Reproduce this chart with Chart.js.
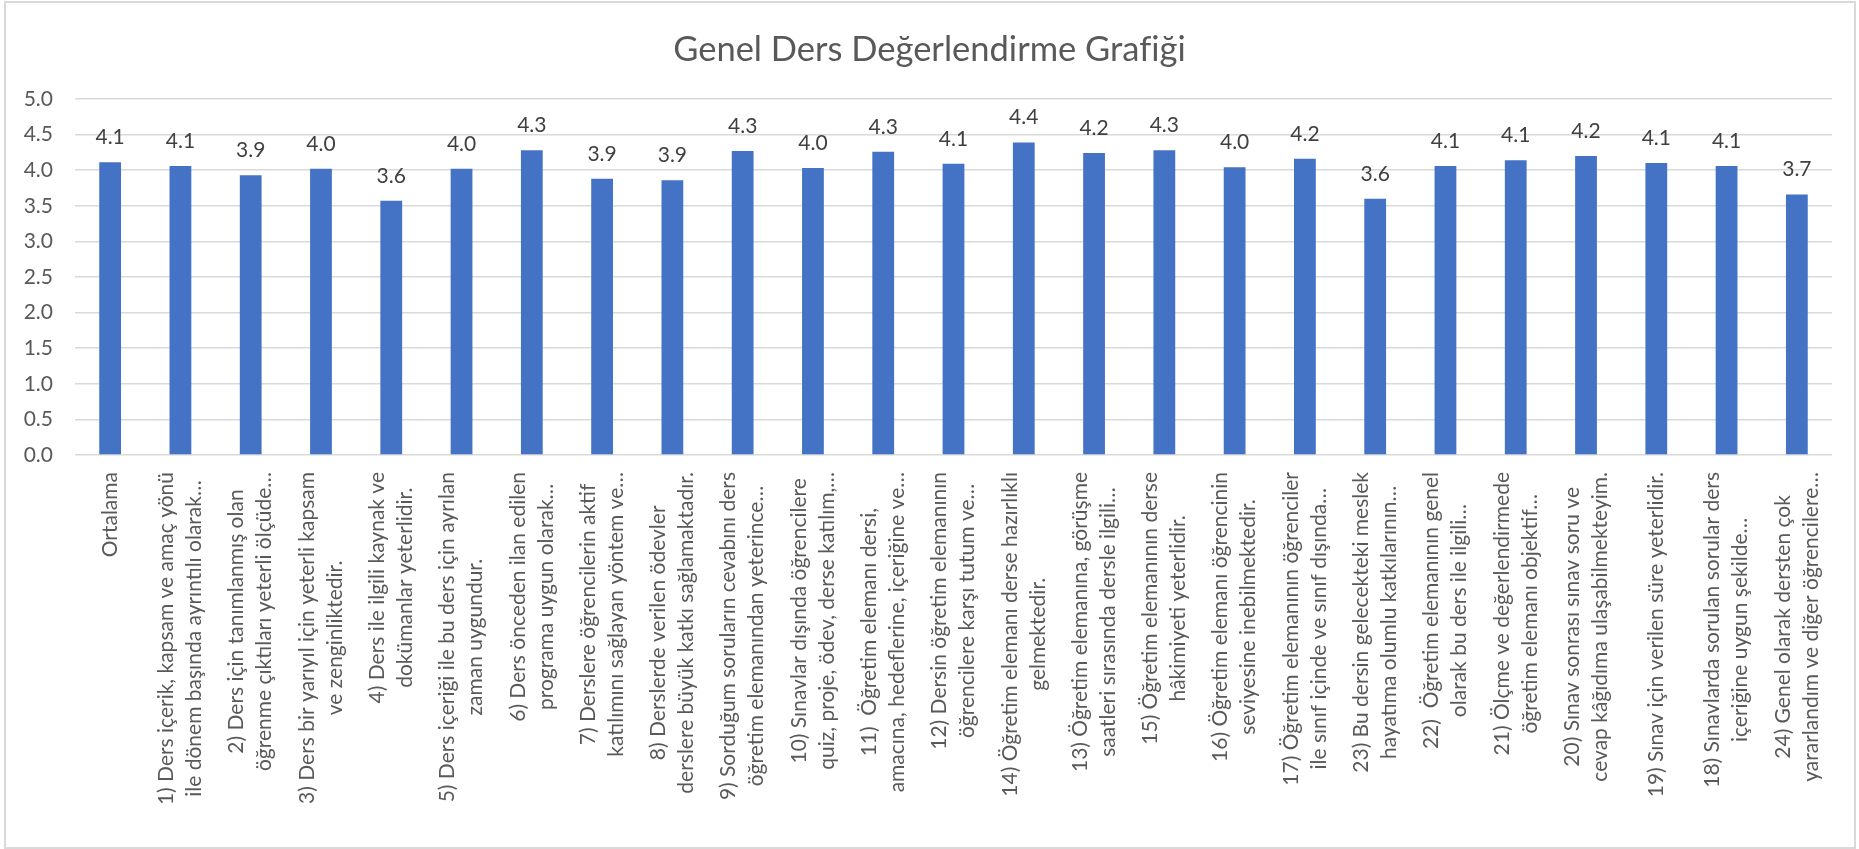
<!DOCTYPE html>
<html lang="tr">
<head>
<meta charset="utf-8">
<title>Genel Ders Değerlendirme Grafiği</title>
<script src="https://cdn.jsdelivr.net/npm/chart.js"></script>
<style>
  html, body { margin: 0; padding: 0; background: #fff; }
  #kutu { position: relative; width: 1859px; height: 849px; }
  #cerceve { position: absolute; left: 4px; top: 1px; width: 1848px; height: 844px; border: 2px solid #d9d9d9; pointer-events: none; }
</style>
</head>
<body>
<div id="kutu">
  <canvas id="myChart" width="1859" height="849"></canvas>
  <div id="cerceve"></div>
</div>
<script>
var baslik = 'Genel Ders Değerlendirme Grafiği';

// her kategori: etiketin satırları (grafikteki gibi kısaltılmış)
var kategoriler = [
    ['Ortalama'],
    ['1) Ders içerik, kapsam ve amaç yönü', 'ile dönem başında ayrıntılı olarak…'],
    ['2) Ders için tanımlanmış olan', 'öğrenme çıktıları yeterli ölçüde…'],
    ['3) Ders bir yarıyıl için yeterli kapsam', 've zenginliktedir.'],
    ['4) Ders ile ilgili kaynak ve', 'dokümanlar yeterlidir.'],
    ['5) Ders içeriği ile bu ders için ayrılan', 'zaman uygundur.'],
    ['6) Ders önceden ilan edilen', 'programa uygun olarak…'],
    ['7) Derslere öğrencilerin aktif', 'katılımını sağlayan yöntem ve…'],
    ['8) Derslerde verilen ödevler', 'derslere büyük katkı sağlamaktadır.'],
    ['9) Sorduğum soruların cevabını ders', 'öğretim elemanından yeterince…'],
    ['10) Sınavlar dışında öğrencilere', 'quiz, proje, ödev, derse katılım,…'],
    ['11)  Öğretim elemanı dersi,', 'amacına, hedeflerine, içeriğine ve…'],
    ['12) Dersin öğretim elemanının', 'öğrencilere karşı tutum ve…'],
    ['14) Öğretim elemanı derse hazırlıklı', 'gelmektedir.'],
    ['13) Öğretim elemanına, görüşme', 'saatleri sırasında dersle ilgili…'],
    ['15) Öğretim elemanının derse', 'hâkimiyeti yeterlidir.'],
    ['16) Öğretim elemanı öğrencinin', 'seviyesine inebilmektedir.'],
    ['17) Öğretim elemanının öğrenciler', 'ile sınıf içinde ve sınıf dışında…'],
    ['23) Bu dersin gelecekteki meslek', 'hayatıma olumlu katkılarının…'],
    ['22)  Öğretim elemanının genel', 'olarak bu ders ile ilgili…'],
    ['21) Ölçme ve değerlendirmede', 'öğretim elemanı objektif…'],
    ['20) Sınav sonrası sınav soru ve', 'cevap kâğıdıma ulaşabilmekteyim.'],
    ['19) Sınav için verilen süre yeterlidir.'],
    ['18) Sınavlarda sorulan sorular ders', 'içeriğine uygun şekilde…'],
    ['24) Genel olarak dersten çok', 'yararlandım ve diğer öğrencilere…']
];

var degerler = [4.11, 4.06, 3.93, 4.02, 3.57, 4.02, 4.28, 3.88, 3.86, 4.27, 4.03, 4.26, 4.09,
                4.39, 4.24, 4.28, 4.04, 4.16, 3.60, 4.06, 4.14, 4.20, 4.10, 4.06, 3.66];

var yTikleri = [0, 0.5, 1, 1.5, 2, 2.5, 3, 3.5, 4, 4.5, 5];

var yaziRengi = '#595959';
var cubukRengi = '#4472C4';

// başlık, değer etiketleri ve döndürülmüş kategori etiketleri
var etiketEklentisi = {
    id: 'etiketler',
    afterDatasetsDraw: function(chart) {
        var ctx = chart.ctx;
        var meta = chart.getDatasetMeta(0);
        ctx.save();

        ctx.fillStyle = yaziRengi;
        ctx.font = '34.5px Lato';
        ctx.textAlign = 'center';
        ctx.textBaseline = 'middle';
        ctx.fillText(baslik, chart.width / 2, 50);

        ctx.fillStyle = '#404040';
        ctx.font = '21px Lato';
        ctx.textBaseline = 'alphabetic';
        meta.data.forEach(function(bar, i) {
            ctx.fillText(degerler[i].toFixed(1), bar.x, bar.y - 18);
        });

        var xs = chart.scales.x;
        var ust = chart.chartArea.bottom + 17;
        var satirAraligi = 28;
        ctx.fillStyle = yaziRengi;
        ctx.font = '21px Lato';
        ctx.textBaseline = 'middle';
        kategoriler.forEach(function(satirlar, i) {
            var x = xs.getPixelForValue(i);
            var w = 0;
            satirlar.forEach(function(s) { w = Math.max(w, ctx.measureText(s).width); });
            satirlar.forEach(function(s, k) {
                var cx = x + (k - (satirlar.length - 1) / 2) * satirAraligi;
                ctx.save();
                ctx.translate(cx, ust + w / 2);
                ctx.rotate(-Math.PI / 2);
                ctx.fillText(s, 0, 0);
                ctx.restore();
            });
        });
        ctx.restore();
    }
};

var ctx = document.getElementById('myChart');
window.myChart = new Chart(ctx, {
    type: 'bar',
    data: {
        labels: kategoriler,
        datasets: [{
            label: baslik,
            data: degerler,
            backgroundColor: cubukRengi,
            borderWidth: 0,
            barPercentage: 1,
            categoryPercentage: 0.31
        }]
    },
    options: {
        responsive: false,
        animation: false,
        layout: { padding: { left: 0, right: 27, top: 99, bottom: 0 } },
        plugins: {
            legend: { display: false },
            tooltip: { enabled: false },
            title: { display: false }
        },
        scales: {
            x: {
                grid: { display: false },
                border: { display: false },
                ticks: { display: false },
                afterFit: function(s) { s.height = 394; }
            },
            y: {
                min: 0,
                max: 5,
                afterBuildTicks: function(s) {
                    s.ticks = yTikleri.map(function(v) { return { value: v }; });
                },
                grid: { color: '#d9d9d9', lineWidth: 1.5, drawTicks: false },
                border: { display: false },
                ticks: {
                    padding: 22,
                    color: yaziRengi,
                    font: { family: 'Lato', size: 21 },
                    callback: function(v) { return Number(v).toFixed(1); }
                },
                afterFit: function(s) { s.width = 75; }
            }
        }
    },
    plugins: [etiketEklentisi]
});
</script>
</body>
</html>
